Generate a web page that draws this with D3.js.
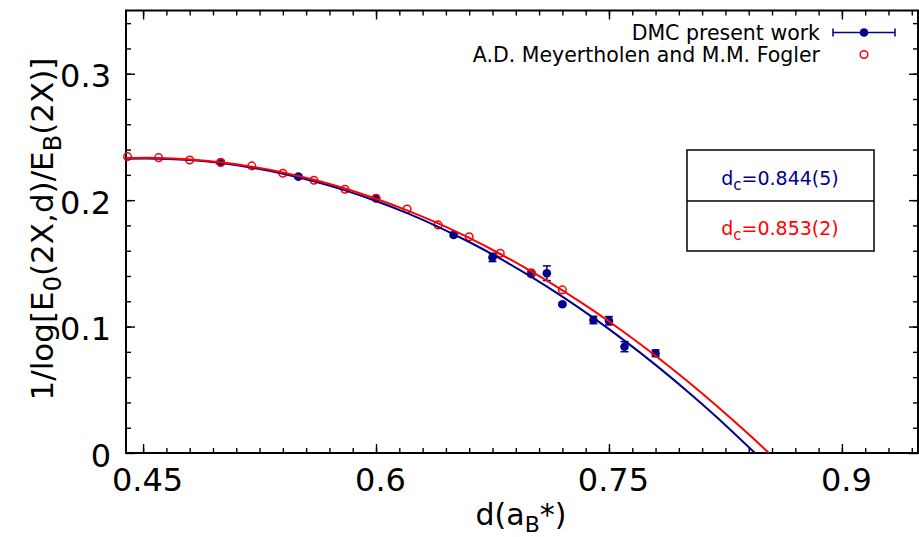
<!DOCTYPE html>
<html>
<head>
<meta charset="utf-8">
<script src="https://cdn.jsdelivr.net/npm/d3@7"></script>
<style>
  body { margin: 0; background: #fff; }
  text { font-family: "DejaVu Sans", sans-serif; }
</style>
</head>
<body>
<svg id="chart" width="919" height="537"></svg>
<script>
"use strict";

// DMC points (present work) with error bars
var dmcX   = [0.50, 0.55, 0.60, 0.65, 0.675, 0.70, 0.71, 0.72, 0.74, 0.75, 0.76, 0.78];
var dmcY   = [0.2300, 0.2186, 0.2015, 0.1725, 0.1547, 0.1416, 0.1422, 0.1176, 0.1052, 0.1046, 0.0841, 0.0789];
var dmcErr = [0.0012, 0.0012, 0.0012, 0.0014, 0.0033, 0.0014, 0.0058, 0.0010, 0.0029, 0.0033, 0.0040, 0.0026];

// Meyertholen & Fogler points
var mfX = [0.44, 0.46, 0.48, 0.50, 0.52, 0.54, 0.56, 0.58, 0.60, 0.62, 0.64, 0.66, 0.68, 0.70, 0.72];
var mfY = [0.2344, 0.2336, 0.2318, 0.2298, 0.2271, 0.2213, 0.2157, 0.2086, 0.2015, 0.1930, 0.1804, 0.1711, 0.1580, 0.1426, 0.1290];

// fitted curves
var fitDmcX = [0.439, 0.46, 0.48, 0.50, 0.52, 0.54, 0.56, 0.58, 0.60, 0.62, 0.64, 0.66, 0.68, 0.70, 0.72, 0.74, 0.76, 0.78, 0.80, 0.82, 0.844];
var fitDmcY = [0.2328, 0.2328, 0.2317, 0.2293, 0.2257, 0.2209, 0.2149, 0.2077, 0.1993, 0.1897, 0.1789, 0.1669, 0.1537, 0.1393, 0.1237, 0.1069, 0.0889, 0.0697, 0.0493, 0.0277, 0];
var fitMfX  = [0.439, 0.46, 0.48, 0.50, 0.52, 0.54, 0.56, 0.58, 0.60, 0.62, 0.64, 0.66, 0.68, 0.70, 0.72, 0.74, 0.76, 0.78, 0.80, 0.82, 0.84, 0.853];
var fitMfY  = [0.2333, 0.2334, 0.2322, 0.2299, 0.2265, 0.2219, 0.2161, 0.2092, 0.2011, 0.1919, 0.1816, 0.1701, 0.1574, 0.1436, 0.1287, 0.1126, 0.0953, 0.0769, 0.0573, 0.0366, 0.0148, 0];

var xTickValues = [0.45, 0.6, 0.75, 0.9];
var xTickLabels = ["0.45", "0.6", "0.75", "0.9"];
var yTickValues = [0, 0.1, 0.2, 0.3];
var yTickLabels = ["0", "0.1", "0.2", "0.3"];

var seriesLabels = ["DMC present work", "A.D. Meyertholen and M.M. Fogler"];
var dcLabels = ["=0.844(5)", "=0.853(2)"];

var blue = "#00008b",
    red = "#ff0000";

var svg = d3.select("#chart");
var margin = { left: 126, top: 10.5, right: 1, bottom: 84 };
var width = 919 - margin.left - margin.right,
    height = 537 - margin.top - margin.bottom;

var x = d3.scaleLinear().domain([0.439, 0.949]).range([0, width]);
var y = d3.scaleLinear().domain([0, 0.35]).range([height, 0]);

var g = svg.append("g")
    .attr("transform", "translate(" + margin.left + "," + margin.top + ")");

g.append("clipPath").attr("id", "plotclip")
  .append("rect").attr("width", width).attr("height", height);

/*
 * axes: ticks drawn inward on all four sides
 */
var xMinor = d3.range(0.45, 0.949, 0.015),
    yMinor = d3.range(0.02, 0.35, 0.02);

function tidy(sel) {
    sel.select(".domain").remove();
    sel.selectAll(".tick line").attr("stroke", "#000").attr("stroke-width", 1.4);
}

g.append("g").attr("transform", "translate(0," + height + ")")
    .call(d3.axisBottom(x).tickValues(xMinor).tickFormat("").tickSizeInner(-5).tickSizeOuter(0)).call(tidy);
g.append("g").call(d3.axisTop(x).tickValues(xMinor).tickFormat("").tickSizeInner(-5).tickSizeOuter(0)).call(tidy);
g.append("g").call(d3.axisLeft(y).tickValues(yMinor).tickFormat("").tickSizeInner(-5).tickSizeOuter(0)).call(tidy);
g.append("g").attr("transform", "translate(" + width + ",0)")
    .call(d3.axisRight(y).tickValues(yMinor).tickFormat("").tickSizeInner(-5).tickSizeOuter(0)).call(tidy);

var xAxis = g.append("g").attr("transform", "translate(0," + height + ")")
    .call(d3.axisBottom(x).tickValues(xTickValues)
        .tickFormat(function(d, i) { return xTickLabels[i]; })
        .tickSizeInner(-9).tickSizeOuter(0).tickPadding(15))
    .call(tidy);
xAxis.selectAll(".tick text")
    .attr("x", 4)
    .attr("fill", "#000")
    .style("font-size", "32px");

g.append("g").call(d3.axisTop(x).tickValues(xTickValues).tickFormat("").tickSizeInner(-9).tickSizeOuter(0)).call(tidy);

var yAxis = g.append("g")
    .call(d3.axisLeft(y).tickValues(yTickValues)
        .tickFormat(function(d, i) { return yTickLabels[i]; })
        .tickSizeInner(-9).tickSizeOuter(0).tickPadding(15))
    .call(tidy);
yAxis.selectAll(".tick text")
    .attr("dy", "0.41em")
    .attr("fill", "#000")
    .style("font-size", "32px");

g.append("g").attr("transform", "translate(" + width + ",0)")
    .call(d3.axisRight(y).tickValues(yTickValues).tickFormat("").tickSizeInner(-9).tickSizeOuter(0)).call(tidy);

// frame
g.append("rect")
    .attr("width", width)
    .attr("height", height)
    .attr("fill", "none")
    .attr("stroke", "#000")
    .attr("stroke-width", 2);

// axis titles
var xt = svg.append("text")
    .attr("x", 521)
    .attr("y", 525)
    .attr("text-anchor", "middle")
    .style("font-size", "30px");
xt.append("tspan").text("d(a");
xt.append("tspan").attr("dy", 7).style("font-size", "22px").text("B");
xt.append("tspan").attr("dy", -7).text("*)");

var yt = svg.append("text")
    .attr("transform", "translate(53,229)rotate(-90)")
    .attr("text-anchor", "middle")
    .style("font-size", "31px");
yt.append("tspan").text("1/log[E");
yt.append("tspan").attr("dy", 8).style("font-size", "24px").text("0");
yt.append("tspan").attr("dy", -8).text("(2X,d)/E");
yt.append("tspan").attr("dy", 8).style("font-size", "24px").text("B");
yt.append("tspan").attr("dy", -8).text("(2X)]");

/*
 * data
 */
var dmc = dmcX.map(function(d, i) { return { x: d, y: dmcY[i], e: dmcErr[i] }; });
var mf = mfX.map(function(d, i) { return { x: d, y: mfY[i] }; });

var bars = g.append("g").attr("stroke", blue).attr("stroke-width", 1.5);
bars.selectAll(".ebar").data(dmc).enter().append("line")
    .attr("x1", function(d) { return x(d.x); })
    .attr("x2", function(d) { return x(d.x); })
    .attr("y1", function(d) { return y(d.y - d.e); })
    .attr("y2", function(d) { return y(d.y + d.e); });
bars.selectAll(".captop").data(dmc).enter().append("line")
    .attr("x1", function(d) { return x(d.x) - 4; })
    .attr("x2", function(d) { return x(d.x) + 4; })
    .attr("y1", function(d) { return y(d.y + d.e); })
    .attr("y2", function(d) { return y(d.y + d.e); });
bars.selectAll(".capbot").data(dmc).enter().append("line")
    .attr("x1", function(d) { return x(d.x) - 4; })
    .attr("x2", function(d) { return x(d.x) + 4; })
    .attr("y1", function(d) { return y(d.y - d.e); })
    .attr("y2", function(d) { return y(d.y - d.e); });

g.selectAll(".dmc").data(dmc).enter().append("circle")
    .attr("cx", function(d) { return x(d.x); })
    .attr("cy", function(d) { return y(d.y); })
    .attr("r", 4.3)
    .attr("fill", blue);

g.selectAll(".mf").data(mf).enter().append("circle")
    .attr("cx", function(d) { return x(d.x); })
    .attr("cy", function(d) { return y(d.y); })
    .attr("r", 3.8)
    .attr("fill", "none")
    .attr("stroke", red)
    .attr("stroke-width", 1.5);

var line = d3.line()
    .x(function(d) { return x(d[0]); })
    .y(function(d) { return y(d[1]); })
    .curve(d3.curveNatural);

g.append("path")
    .datum(fitDmcX.map(function(d, i) { return [d, fitDmcY[i]]; }))
    .attr("clip-path", "url(#plotclip)")
    .attr("fill", "none")
    .attr("stroke", blue)
    .attr("stroke-width", 2)
    .attr("d", line);

g.append("path")
    .datum(fitMfX.map(function(d, i) { return [d, fitMfY[i]]; }))
    .attr("clip-path", "url(#plotclip)")
    .attr("fill", "none")
    .attr("stroke", red)
    .attr("stroke-width", 2)
    .attr("d", line);

/*
 * legend
 */
var legend = svg.append("g");
legend.append("text")
    .attr("x", 820).attr("y", 40)
    .attr("text-anchor", "end")
    .style("font-size", "20.5px")
    .text(seriesLabels[0]);
legend.append("text")
    .attr("x", 820).attr("y", 62)
    .attr("text-anchor", "end")
    .style("font-size", "20.5px")
    .text(seriesLabels[1]);

var key = legend.append("g").attr("stroke", blue).attr("stroke-width", 1.5);
key.append("line").attr("x1", 833).attr("x2", 895).attr("y1", 32.5).attr("y2", 32.5);
key.append("line").attr("x1", 833).attr("x2", 833).attr("y1", 28.5).attr("y2", 36.5);
key.append("line").attr("x1", 895).attr("x2", 895).attr("y1", 28.5).attr("y2", 36.5);
legend.append("circle").attr("cx", 864).attr("cy", 32.5).attr("r", 4.3).attr("fill", blue);
legend.append("circle").attr("cx", 864).attr("cy", 54.5).attr("r", 3.8)
    .attr("fill", "none").attr("stroke", red).attr("stroke-width", 1.5);

// critical distance box
var box = svg.append("g");
box.append("rect")
    .attr("x", 687).attr("y", 150)
    .attr("width", 187).attr("height", 101)
    .attr("fill", "none")
    .attr("stroke", "#000")
    .attr("stroke-width", 1.5);
box.append("line")
    .attr("x1", 687).attr("x2", 874)
    .attr("y1", 201).attr("y2", 201)
    .attr("stroke", "#000")
    .attr("stroke-width", 1.5);

[blue, red].forEach(function(c, i) {
    var t = box.append("text")
        .attr("x", 780)
        .attr("y", 185 + i * 50)
        .attr("text-anchor", "middle")
        .attr("fill", c)
        .style("font-size", "19px");
    t.append("tspan").text("d");
    t.append("tspan").attr("dy", 5).style("font-size", "15px").text("c");
    t.append("tspan").attr("dy", -5).text(dcLabels[i]);
});
</script>
</body>
</html>
